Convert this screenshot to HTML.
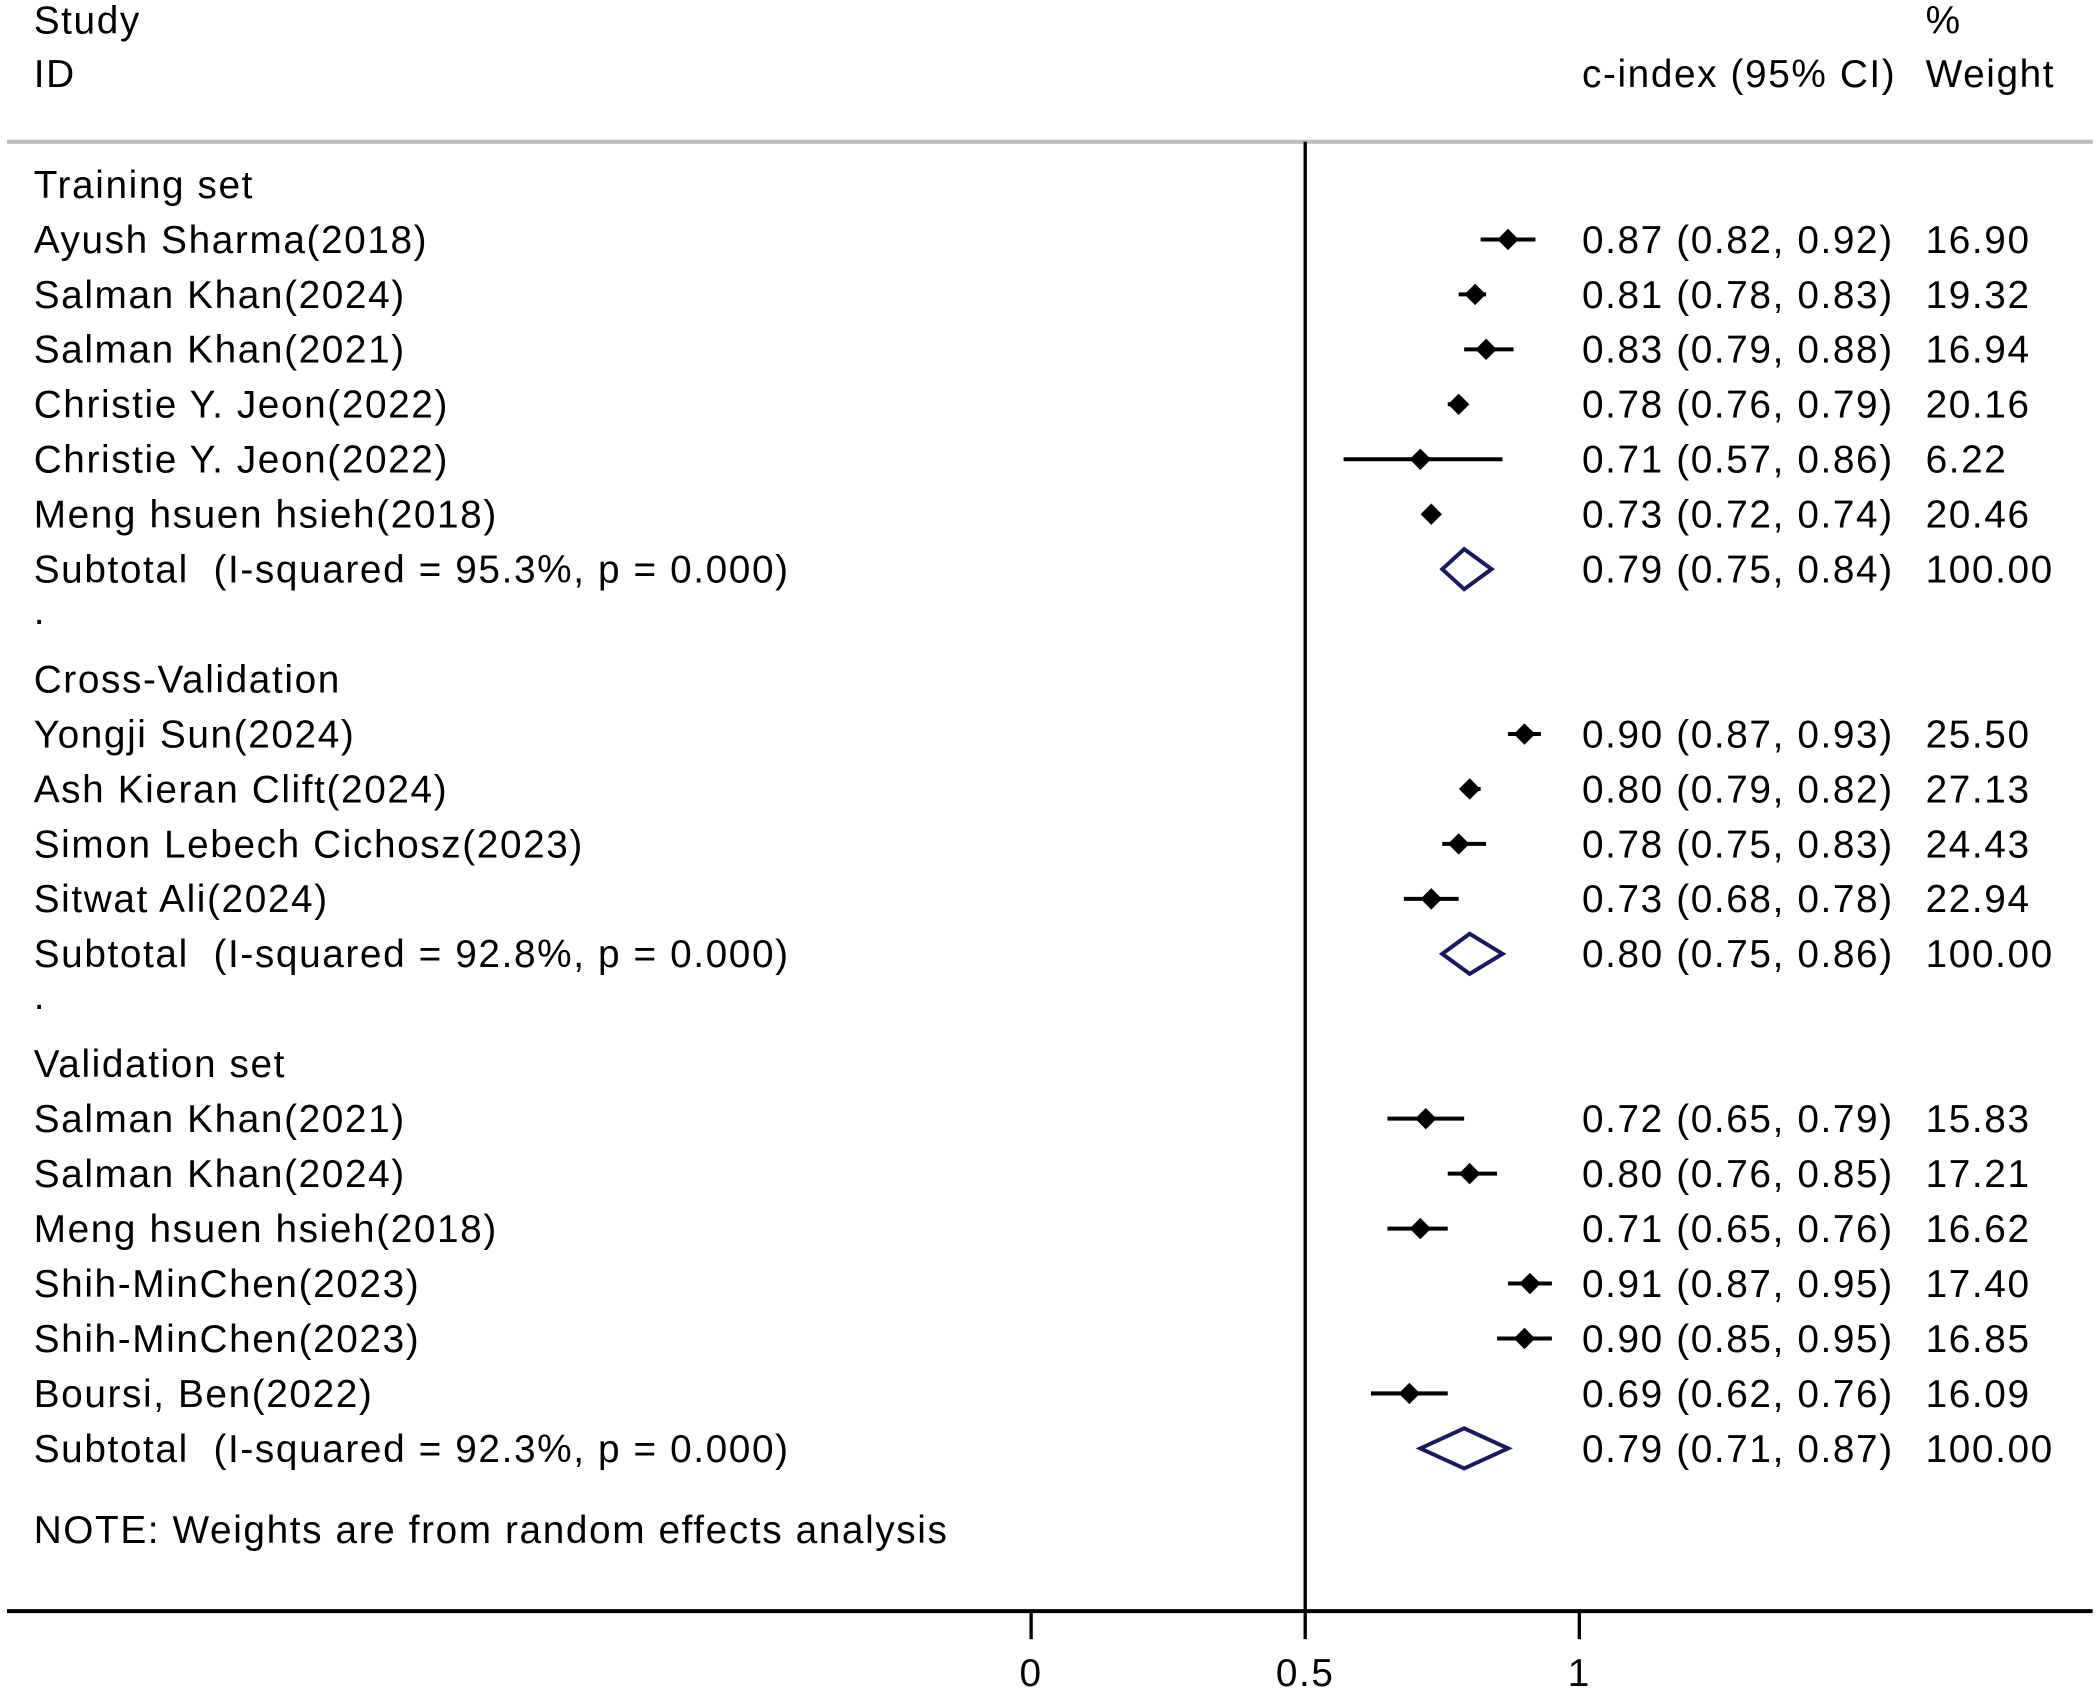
<!DOCTYPE html>
<html><head><meta charset="utf-8"><style>
html,body{margin:0;padding:0;background:#fff;}
svg{display:block;}
text{font-family:"Liberation Sans",Arial,sans-serif;font-size:29px;fill:#000;letter-spacing:1.2px;white-space:pre;}
</style></head><body>
<svg id="chart" width="2097" height="1694" viewBox="0 0 1568 1267" xmlns="http://www.w3.org/2000/svg" xml:space="preserve">
<rect width="1568" height="1267" fill="#fff"/>
<text x="25" y="25">Study</text>
<text x="25" y="65">ID</text>
<text x="1183" y="65">c-index (95% CI)</text>
<text x="1440" y="25">%</text>
<text x="1440" y="65">Weight</text>
<line x1="5" y1="106" x2="1565" y2="106" stroke="#bbb" stroke-width="3"/>
<g id="marks"></g>
<text x="25" y="1154">NOTE: Weights are from random effects analysis</text>
</svg>
<script>
const labels=["Training set","Ayush Sharma(2018)","Salman Khan(2024)","Salman Khan(2021)","Christie Y. Jeon(2022)","Christie Y. Jeon(2022)","Meng hsuen hsieh(2018)","Subtotal  (I-squared = 95.3%, p = 0.000)",".","Cross-Validation","Yongji Sun(2024)","Ash Kieran Clift(2024)","Simon Lebech Cichosz(2023)","Sitwat Ali(2024)","Subtotal  (I-squared = 92.8%, p = 0.000)",".","Validation set","Salman Khan(2021)","Salman Khan(2024)","Meng hsuen hsieh(2018)","Shih-MinChen(2023)","Shih-MinChen(2023)","Boursi, Ben(2022)","Subtotal  (I-squared = 92.3%, p = 0.000)"];
const kinds=["h","s","s","s","s","s","s","t","d","h","s","s","s","s","t","d","h","s","s","s","s","s","s","t"];
const est=[null,0.87,0.81,0.83,0.78,0.71,0.73,0.79,null,null,0.90,0.80,0.78,0.73,0.80,null,null,0.72,0.80,0.71,0.91,0.90,0.69,0.79];
const lci=[null,0.82,0.78,0.79,0.76,0.57,0.72,0.75,null,null,0.87,0.79,0.75,0.68,0.75,null,null,0.65,0.76,0.65,0.87,0.85,0.62,0.71];
const uci=[null,0.92,0.83,0.88,0.79,0.86,0.74,0.84,null,null,0.93,0.82,0.83,0.78,0.86,null,null,0.79,0.85,0.76,0.95,0.95,0.76,0.87];
const weights=[null,"16.90","19.32","16.94","20.16","6.22","20.46","100.00",null,null,"25.50","27.13","24.43","22.94","100.00",null,null,"15.83","17.21","16.62","17.40","16.85","16.09","100.00"];
const ticks=[0,0.5,1];
const tickLabels=["0","0.5","1"];
const NS="http://www.w3.org/2000/svg";
const g=document.getElementById('marks');
const xs=v=>771+410*v;
const rowY=i=>138+i*41.1;
function mk(tag,at,parent){const e=document.createElementNS(NS,tag);for(const k in at)e.setAttribute(k,at[k]);(parent||g).appendChild(e);return e;}
const f2=v=>v.toFixed(2);
labels.forEach((lab,i)=>{
  const y=rowY(i);
  const t=mk('text',{x:25,y:(kinds[i]==='d'?y:y+10)});
  
  
  t.textContent=lab;
  if(est[i]==null)return;
  const et=mk('text',{x:1183,y:y+10});
  
  
  et.textContent=f2(est[i])+" ("+f2(lci[i])+", "+f2(uci[i])+")";
  const wt=mk('text',{x:1440,y:y+10});
  
  
  wt.textContent=weights[i];
  if(kinds[i]==='s'){
    const l=mk('line',{x1:xs(lci[i]),y1:y,x2:xs(uci[i]),y2:y,stroke:'#000','stroke-width':3});
    
    
    const c=xs(est[i]),r=8;
    const p=mk('polygon',{points:`${c-r},${y} ${c},${y-r} ${c+r},${y} ${c},${y+r}`,fill:'#000'});
    
    
  }else{
    const c=xs(est[i]),a=xs(lci[i]),b=xs(uci[i]),h=15;
    const p=mk('polygon',{points:`${a},${y} ${c},${y-h} ${b},${y} ${c},${y+h}`,fill:'none',stroke:'#1a1a5e','stroke-width':3});
    
    
  }
});
const ref=mk('line',{x1:xs(0.5),y1:106,x2:xs(0.5),y2:1205,stroke:'#000','stroke-width':2.5});


const ax=mk('line',{x1:5,y1:1205,x2:1565,y2:1205,stroke:'#000','stroke-width':3});


ticks.forEach((v,i)=>{
  const tk=mk('line',{x1:xs(v),y1:1205,x2:xs(v),y2:1226,stroke:'#000','stroke-width':2.5});
  
  
  const tl=mk('text',{x:xs(v),y:1261,'text-anchor':'middle'});
  
  
  tl.textContent=tickLabels[i];
});
</script>
</body></html>
